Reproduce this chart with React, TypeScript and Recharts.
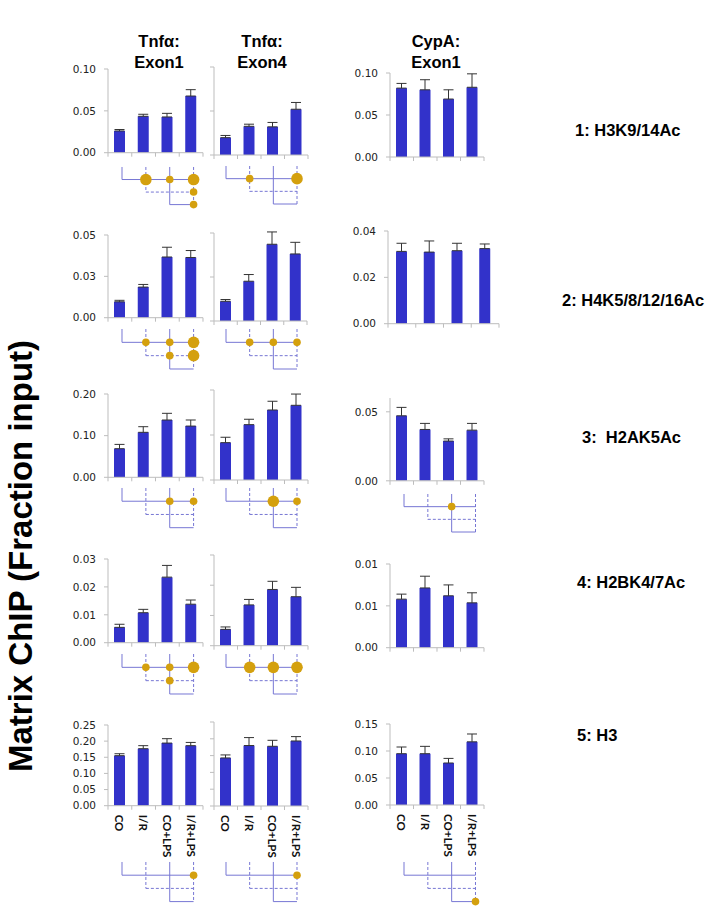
import React from 'react';
import { BarChart, Bar, XAxis, YAxis, ErrorBar, ScatterChart, Scatter, ReferenceLine } from 'recharts';

const conditions = ['CO', 'I/R', 'CO+LPS', 'I/R+LPS'];

// 1: H3K9/14Ac
const h3k9TnfEx1 = [0.026, 0.0435, 0.0427, 0.0677];
const h3k9TnfEx1Err = [0.0017, 0.0024, 0.0043, 0.0076];
const h3k9TnfEx4 = [0.0197, 0.0326, 0.032, 0.052];
const h3k9TnfEx4Err = [0.0025, 0.0024, 0.005, 0.0077];
const h3k9CypEx1 = [0.082, 0.08, 0.069, 0.083];
const h3k9CypEx1Err = [0.0056, 0.012, 0.011, 0.016];

// 2: H4K5/8/12/16Ac
const h4TnfEx1 = [0.0096, 0.0185, 0.0367, 0.0364];
const h4TnfEx1Err = [0.0009, 0.0016, 0.0059, 0.0042];
const h4TnfEx4 = [0.0112, 0.0226, 0.0436, 0.0381];
const h4TnfEx4Err = [0.001, 0.0038, 0.007, 0.0066];
const h4CypEx1 = [0.0312, 0.0309, 0.0315, 0.0324];
const h4CypEx1Err = [0.0035, 0.0048, 0.0032, 0.002];

// 3: H2AK5Ac
const h2aTnfEx1 = [0.0687, 0.108, 0.1376, 0.123];
const h2aTnfEx1Err = [0.0103, 0.0135, 0.016, 0.0146];
const h2aTnfEx4 = [0.083, 0.123, 0.1556, 0.166];
const h2aTnfEx4Err = [0.012, 0.012, 0.0194, 0.025];
const h2aCypEx1 = [0.0471, 0.0372, 0.0288, 0.0367];
const h2aCypEx1Err = [0.0061, 0.0044, 0.0016, 0.0049];

// 4: H2BK4/7Ac
const h2bTnfEx1 = [0.0055, 0.01075, 0.0235, 0.0138];
const h2bTnfEx1Err = [0.0011, 0.0012, 0.0042, 0.0015];
const h2bTnfEx4 = [0.0054, 0.0135, 0.0186, 0.0162];
const h2bTnfEx4Err = [0.0008, 0.0018, 0.0027, 0.0031];
const h2bCypEx1 = [0.0058, 0.00714, 0.0062, 0.00536];
const h2bCypEx1Err = [0.0006, 0.0014, 0.0013, 0.0012];

// 5: H3
const h3TnfEx1 = [0.155, 0.1766, 0.194, 0.186];
const h3TnfEx1Err = [0.006, 0.0094, 0.0136, 0.01];
const h3TnfEx4 = [0.143, 0.18, 0.1777, 0.1935];
const h3TnfEx4Err = [0.009, 0.0236, 0.0178, 0.013];
const h3CypEx1 = [0.095, 0.095, 0.0778, 0.117];
const h3CypEx1Err = [0.0124, 0.0136, 0.0085, 0.0145];

// significance: [comparison row (1=vs CO, 2=vs I/R, 3=vs CO+LPS), condition 1-4, strength 1|2]
const h3k9TnfEx1Sig = [[1, 2, 2], [1, 3, 1], [1, 4, 2], [2, 4, 1], [3, 4, 1]];
const h3k9TnfEx4Sig = [[1, 2, 1], [1, 4, 2]];
const h4TnfEx1Sig = [[1, 2, 1], [1, 3, 1], [1, 4, 2], [2, 3, 1], [2, 4, 2]];
const h4TnfEx4Sig = [[1, 2, 1], [1, 3, 1], [1, 4, 1]];
const h2aTnfEx1Sig = [[1, 3, 1], [1, 4, 1]];
const h2aTnfEx4Sig = [[1, 3, 2], [1, 4, 1]];
const h2aCypEx1Sig = [[1, 3, 1]];
const h2bTnfEx1Sig = [[1, 2, 1], [1, 3, 1], [1, 4, 2], [2, 3, 1]];
const h2bTnfEx4Sig = [[1, 2, 2], [1, 3, 2], [1, 4, 2]];
const h3TnfEx1Sig = [[1, 4, 1]];
const h3TnfEx4Sig = [[1, 4, 1]];
const h3CypEx1Sig = [[3, 4, 1]];

const ticks010 = [0, 0.05, 0.1];
const ticks005 = [0, 0.025, 0.05];
const ticks004 = [0, 0.02, 0.04];
const ticks020 = [0, 0.1, 0.2];
const ticks006 = [0, 0.05];
const ticks003 = [0, 0.01, 0.02, 0.03];
const ticks001 = [0, 0.005, 0.01];
const ticks025 = [0, 0.05, 0.1, 0.15, 0.2, 0.25];
const ticks015 = [0, 0.05, 0.1, 0.15];

const BAR = '#3232CA';
const LINE = '#7676D4';
const DOT = '#D4A00E';
const AXIS = '#BDBDBD';
const Y_W = 40;
const M_TOP = 6;
const M_RIGHT = 4;

// bracket layout shared by every significance diagram
const brackets = [
  { seg: [{ x: 1, y: 0 }, { x: 1, y: 1 }], dashed: false },
  { seg: [{ x: 1, y: 1 }, { x: 4, y: 1 }], dashed: false },
  { seg: [{ x: 2, y: 0 }, { x: 2, y: 2 }], dashed: true },
  { seg: [{ x: 2, y: 2 }, { x: 4, y: 2 }], dashed: true },
  { seg: [{ x: 3, y: 0 }, { x: 3, y: 3 }], dashed: false },
  { seg: [{ x: 3, y: 3 }, { x: 4, y: 3 }], dashed: false },
  { seg: [{ x: 4, y: 0 }, { x: 4, y: 3 }], dashed: true },
];

const col1 = { x1: 121.7, x4: 193.3 };
const col2 = { x1: 226, x4: 297 };
const col3 = { x1: 404, x4: 475.5 };

const panels = [
  { vals: h3k9TnfEx1, errs: h3k9TnfEx1Err, sig: h3k9TnfEx1Sig, max: 0.1, ticks: ticks010, box: [108, 203, 69, 152.7], diag: { ...col1, top: 166.7, bottom: 204.3 } },
  { vals: h3k9TnfEx4, errs: h3k9TnfEx4Err, sig: h3k9TnfEx4Sig, max: 0.1, ticks: ticks010, box: [214, 308, 67, 155], diag: { ...col2, top: 166, bottom: 204 }, hideY: true },
  { vals: h3k9CypEx1, errs: h3k9CypEx1Err, sig: [], max: 0.1, ticks: ticks010, box: [390, 484, 73.3, 157.3], diag: { ...col3, top: 170.7, bottom: 208.3 } },

  { vals: h4TnfEx1, errs: h4TnfEx1Err, sig: h4TnfEx1Sig, max: 0.05, ticks: ticks005, box: [108, 203, 235, 317.7], diag: { ...col1, top: 329.3, bottom: 369.3 } },
  { vals: h4TnfEx4, errs: h4TnfEx4Err, sig: h4TnfEx4Sig, max: 0.05, ticks: ticks005, box: [214, 307, 232.7, 320.7], diag: { ...col2, top: 329.3, bottom: 369.3 }, hideY: true },
  { vals: h4CypEx1, errs: h4CypEx1Err, sig: [], max: 0.04, ticks: ticks004, box: [388, 499, 231, 323.7], diag: { ...col3, top: 333.3, bottom: 374.7 } },

  { vals: h2aTnfEx1, errs: h2aTnfEx1Err, sig: h2aTnfEx1Sig, max: 0.2, ticks: ticks020, box: [108, 203, 394, 477.3], diag: { ...col1, top: 488.3, bottom: 528 } },
  { vals: h2aTnfEx4, errs: h2aTnfEx4Err, sig: h2aTnfEx4Sig, max: 0.2, ticks: ticks020, box: [214, 308, 390, 480], diag: { ...col2, top: 488.3, bottom: 528 }, hideY: true },
  { vals: h2aCypEx1, errs: h2aCypEx1Err, sig: h2aCypEx1Sig, max: 0.06, ticks: ticks006, box: [390, 484, 397.9, 480.7], diag: { ...col3, top: 494, bottom: 532 } },

  { vals: h2bTnfEx1, errs: h2bTnfEx1Err, sig: h2bTnfEx1Sig, max: 0.03, ticks: ticks003, box: [108, 203, 559, 642.7], diag: { ...col1, top: 654, bottom: 694 } },
  { vals: h2bTnfEx4, errs: h2bTnfEx4Err, sig: h2bTnfEx4Sig, max: 0.03, ticks: ticks003, box: [214, 308, 555, 645.7], diag: { ...col2, top: 654, bottom: 694 }, hideY: true },
  { vals: h2bCypEx1, errs: h2bCypEx1Err, sig: [], max: 0.01, ticks: ticks001, box: [390, 484, 564.3, 648], diag: { ...col3, top: 660, bottom: 699.3 } },

  { vals: h3TnfEx1, errs: h3TnfEx1Err, sig: h3TnfEx1Sig, max: 0.25, ticks: ticks025, box: [108, 203, 725, 805.7], diag: { ...col1, top: 861.7, bottom: 901.3 }, labels: true },
  { vals: h3TnfEx4, errs: h3TnfEx4Err, sig: h3TnfEx4Sig, max: 0.25, ticks: ticks025, box: [214, 308, 721.7, 805.7], diag: { ...col2, top: 861.7, bottom: 901.3 }, labels: true, hideY: true },
  { vals: h3CypEx1, errs: h3CypEx1Err, sig: h3CypEx1Sig, max: 0.15, ticks: ticks015, box: [390, 484, 724.3, 805.3], diag: { ...col3, top: 861.7, bottom: 901.3 }, labels: true },
];

const rowLabels = [
  { text: '1: H3K9/14Ac', x: 575, y: 130 },
  { text: '2: H4K5/8/12/16Ac', x: 562, y: 300 },
  { text: '3:  H2AK5Ac', x: 582, y: 437 },
  { text: '4: H2BK4/7Ac', x: 577, y: 582 },
  { text: '5: H3', x: 577, y: 735 },
];

const headers = [
  { lines: ['Tnfα:', 'Exon1'], x: 159 },
  { lines: ['Tnfα:', 'Exon4'], x: 262 },
  { lines: ['CypA:', 'Exon1'], x: 436 },
];

function BarPanel({ p }: { p: any }) {
  const [axisX, right, top, zero] = p.box;
  const plotW = right - axisX;
  const plotH = zero - top;
  const xh = p.labels ? 56 : 6;
  const band = plotW / conditions.length;
  const data = conditions.map((name, i) => ({ name, value: p.vals[i], err: [0, p.errs[i]] }));

  const XTick = (props: any) => {
    const { x, y, index, payload } = props;
    return (
      <g>
        <line x1={x - band / 2} x2={x - band / 2} y1={y} y2={y + 4} stroke={AXIS} />
        {index === conditions.length - 1 && (
          <line x1={x + band / 2} x2={x + band / 2} y1={y} y2={y + 4} stroke={AXIS} />
        )}
        {p.labels && (
          <text
            transform={`translate(${x},${y + 9}) rotate(90)`}
            textAnchor="start"
            dominantBaseline="central"
            fontFamily="Lato, 'Liberation Sans', sans-serif"
            fontWeight="bold"
            fontSize={11.5}
            fill="#111"
          >
            {payload.value}
          </text>
        )}
      </g>
    );
  };

  return (
    <div style={{ position: 'absolute', left: axisX - Y_W, top: top - M_TOP }}>
      <BarChart
        width={Y_W + plotW + M_RIGHT}
        height={M_TOP + plotH + xh}
        data={data}
        margin={{ top: M_TOP, right: M_RIGHT, left: 0, bottom: 0 }}
      >
        <XAxis
          dataKey="name"
          height={xh}
          interval={0}
          tickLine={false}
          tickSize={0}
          tickMargin={0}
          tick={XTick}
          axisLine={{ stroke: AXIS }}
        />
        <YAxis
          width={Y_W}
          domain={[0, p.max]}
          ticks={p.ticks}
          allowDataOverflow
          tickSize={4}
          tickMargin={8}
          axisLine={{ stroke: AXIS }}
          tickLine={{ stroke: AXIS }}
          tick={{ fontSize: 10.5, fill: '#222' }}
          tickFormatter={p.hideY ? () => '' : (v: number) => v.toFixed(2)}
        />
        <Bar dataKey="value" fill={BAR} barSize={11} isAnimationActive={false}>
          <ErrorBar dataKey="err" width={5} stroke="#333" strokeWidth={1} />
        </Bar>
      </BarChart>
    </div>
  );
}

function SigDiagram({ d, sig }: { d: any; sig: number[][] }) {
  const PAD = 8;
  const dots = sig.map(([lvl, cond, s]) => ({ x: cond, y: lvl, s }));
  return (
    <div style={{ position: 'absolute', left: d.x1 - PAD, top: d.top - PAD }}>
      <ScatterChart
        width={d.x4 - d.x1 + PAD * 2}
        height={d.bottom - d.top + PAD * 2}
        margin={{ top: PAD, right: PAD, bottom: PAD, left: PAD }}
      >
        <XAxis type="number" dataKey="x" domain={[1, 4]} hide />
        <YAxis type="number" dataKey="y" domain={[0, 3]} reversed hide />
        {brackets.map((b, i) => (
          <ReferenceLine
            key={i}
            segment={b.seg}
            stroke={LINE}
            strokeWidth={1}
            strokeDasharray={b.dashed ? '3 2' : undefined}
            ifOverflow="visible"
          />
        ))}
        <Scatter
          data={dots}
          isAnimationActive={false}
          shape={(props: any) => (
            <circle cx={props.cx} cy={props.cy} r={props.payload.s === 2 ? 5.8 : 3.8} fill={DOT} />
          )}
        />
      </ScatterChart>
    </div>
  );
}

export default function App() {
  return (
    <div
      style={{
        position: 'absolute',
        left: 0,
        top: 0,
        width: 714,
        height: 909,
        background: '#fff',
        fontFamily: "'DejaVu Sans', sans-serif",
        overflow: 'hidden',
      }}
    >
      {headers.map((h, i) => (
        <div
          key={i}
          style={{
            position: 'absolute',
            left: h.x - 40,
            top: 31,
            width: 80,
            textAlign: 'center',
            fontFamily: "'Liberation Sans', Arial, sans-serif",
            fontWeight: 'bold',
            fontSize: 16.5,
            lineHeight: '21px',
            color: '#000',
          }}
        >
          {h.lines.map((l) => (
            <div key={l}>{l}</div>
          ))}
        </div>
      ))}

      <div
        style={{
          position: 'absolute',
          left: 21,
          top: 556,
          transform: 'translate(-50%, -50%) rotate(-90deg)',
          whiteSpace: 'nowrap',
          fontFamily: "'Liberation Sans', Arial, sans-serif",
          fontWeight: 'bold',
          fontSize: 33,
          color: '#000',
        }}
      >
        Matrix ChIP (Fraction input)
      </div>

      {rowLabels.map((r) => (
        <div
          key={r.text}
          style={{
            position: 'absolute',
            left: r.x,
            top: r.y - 10,
            whiteSpace: 'pre',
            fontFamily: "'Liberation Sans', Arial, sans-serif",
            fontWeight: 'bold',
            fontSize: 16.5,
            lineHeight: '20px',
            color: '#000',
          }}
        >
          {r.text}
        </div>
      ))}

      {panels.map((p, i) => (
        <React.Fragment key={i}>
          <BarPanel p={p} />
          <SigDiagram d={p.diag} sig={p.sig} />
        </React.Fragment>
      ))}
    </div>
  );
}
